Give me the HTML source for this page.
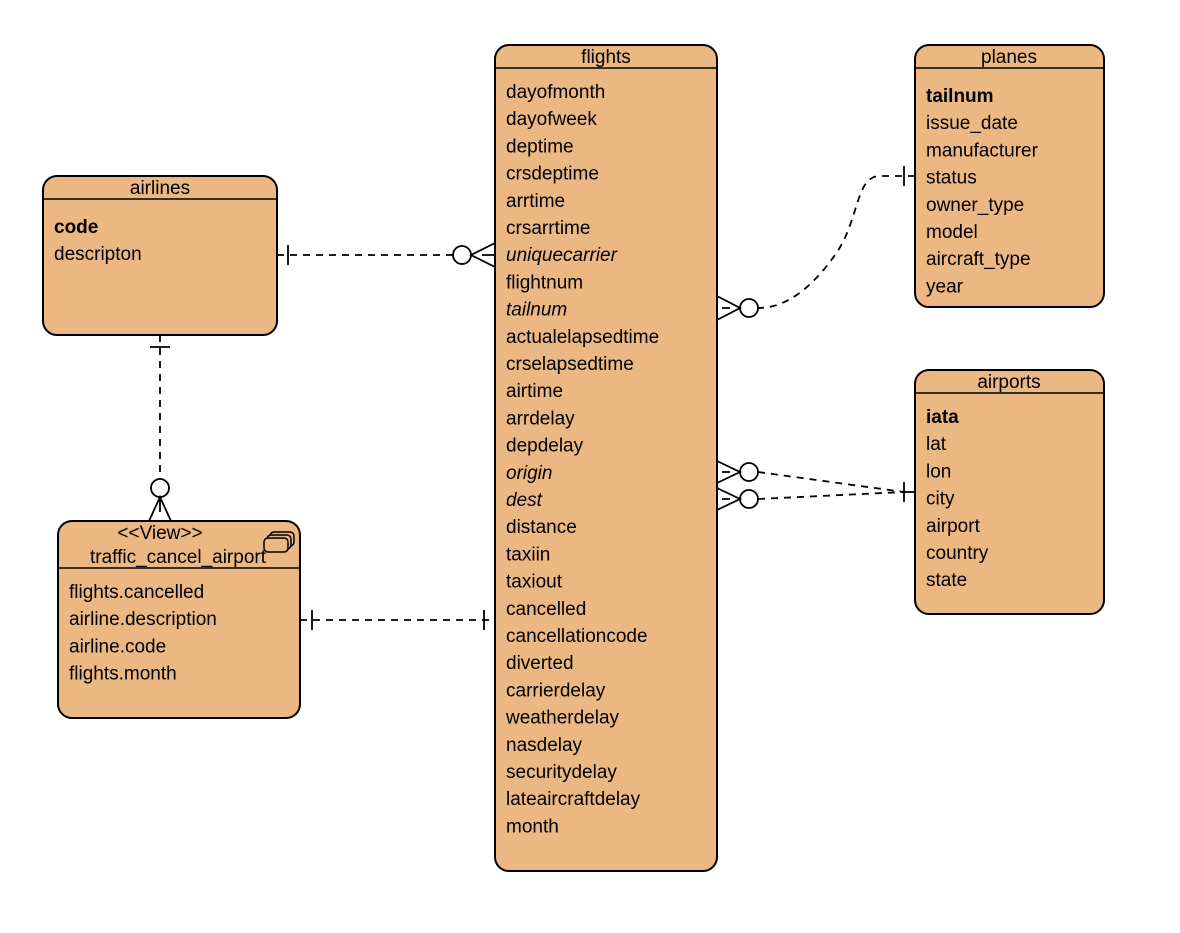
<!DOCTYPE html>
<html><head><style>
body{margin:0;background:#fff}
svg text{font-family:"Liberation Sans",Arial,sans-serif;font-size:19px;fill:#000}
</style></head><body>
<svg width="1180" height="928" xmlns="http://www.w3.org/2000/svg">
<g fill="#ebb783" stroke="#000" stroke-width="2">
<rect x="495" y="45" width="222" height="826" rx="14"/>
<rect x="915" y="45" width="189" height="262" rx="14"/>
<rect x="43" y="176" width="234" height="159" rx="14"/>
<rect x="915" y="370" width="189" height="244" rx="14"/>
<rect x="58" y="521" width="242" height="197" rx="14"/>
</g>
<g stroke="#000" stroke-width="1.5">
<line x1="495" y1="68" x2="717" y2="68"/>
<line x1="915" y1="68" x2="1104" y2="68"/>
<line x1="43" y1="199" x2="277" y2="199"/>
<line x1="915" y1="393" x2="1104" y2="393"/>
<line x1="58" y1="568" x2="300" y2="568"/>
</g>
<g text-anchor="middle">
<text x="606" y="63">flights</text>
<text x="1009" y="63">planes</text>
<text x="160" y="194">airlines</text>
<text x="1009" y="388">airports</text>
<text x="160" y="539">&lt;&lt;View&gt;&gt;</text>
<text x="178" y="563">traffic_cancel_airport</text>
</g>
<g fill="#ebb783" stroke="#000" stroke-width="1.5">
<rect x="270" y="532" width="24" height="14" rx="4"/>
<rect x="267" y="535" width="24" height="14" rx="4"/>
<rect x="264" y="538" width="24" height="14" rx="4"/>
</g>
<g>
<text x="506" y="98">dayofmonth</text>
<text x="506" y="125.2">dayofweek</text>
<text x="506" y="152.4">deptime</text>
<text x="506" y="179.6">crsdeptime</text>
<text x="506" y="206.8">arrtime</text>
<text x="506" y="234">crsarrtime</text>
<text x="506" y="261.2" font-style="italic">uniquecarrier</text>
<text x="506" y="288.4">flightnum</text>
<text x="506" y="315.6" font-style="italic">tailnum</text>
<text x="506" y="342.8">actualelapsedtime</text>
<text x="506" y="370">crselapsedtime</text>
<text x="506" y="397.2">airtime</text>
<text x="506" y="424.4">arrdelay</text>
<text x="506" y="451.6">depdelay</text>
<text x="506" y="478.8" font-style="italic">origin</text>
<text x="506" y="506" font-style="italic">dest</text>
<text x="506" y="533.2">distance</text>
<text x="506" y="560.4">taxiin</text>
<text x="506" y="587.6">taxiout</text>
<text x="506" y="614.8">cancelled</text>
<text x="506" y="642">cancellationcode</text>
<text x="506" y="669.2">diverted</text>
<text x="506" y="696.4">carrierdelay</text>
<text x="506" y="723.6">weatherdelay</text>
<text x="506" y="750.8">nasdelay</text>
<text x="506" y="778">securitydelay</text>
<text x="506" y="805.2">lateaircraftdelay</text>
<text x="506" y="832.4">month</text>

<text x="926" y="102" font-weight="bold">tailnum</text>
<text x="926" y="129.2">issue_date</text>
<text x="926" y="156.4">manufacturer</text>
<text x="926" y="183.6">status</text>
<text x="926" y="210.8">owner_type</text>
<text x="926" y="238">model</text>
<text x="926" y="265.2">aircraft_type</text>
<text x="926" y="292.4">year</text>

<text x="54" y="233" font-weight="bold">code</text>
<text x="54" y="260">descripton</text>

<text x="926" y="423" font-weight="bold">iata</text>
<text x="926" y="450.2">lat</text>
<text x="926" y="477.4">lon</text>
<text x="926" y="504.6">city</text>
<text x="926" y="531.8">airport</text>
<text x="926" y="559">country</text>
<text x="926" y="586.2">state</text>

<text x="69" y="598">flights.cancelled</text>
<text x="69" y="625.2">airline.description</text>
<text x="69" y="652.4">airline.code</text>
<text x="69" y="679.6">flights.month</text>
</g>
<g fill="none" stroke="#000" stroke-width="1.8">
<g stroke-dasharray="7,6">
<line x1="277" y1="255" x2="453" y2="255"/>
<line x1="160" y1="335" x2="160" y2="479"/>
<line x1="300" y1="620" x2="495" y2="620"/>
<path d="M915,176 L880,176 C855,176 860,220 835,255 C810,290 785,308 758,308"/>
<line x1="758" y1="472" x2="904" y2="492"/>
<line x1="758" y1="499" x2="904" y2="492"/>
</g>
<line x1="904" y1="492" x2="915" y2="492"/>
<line x1="904" y1="166" x2="904" y2="186"/>
<line x1="904" y1="482" x2="904" y2="502"/>
<line x1="288" y1="245" x2="288" y2="265"/>
<line x1="150" y1="347" x2="170" y2="347"/>
<line x1="312" y1="610" x2="312" y2="630"/>
<line x1="484" y1="610" x2="484" y2="630"/>
<circle cx="462" cy="255" r="9" fill="#fff"/>
<path d="M495,243 L471,255 L495,267 M482,255 L495,255"/>
<circle cx="160" cy="488" r="9" fill="#fff"/>
<path d="M149,521 L160,497 L171,521 M160,500 L160,512"/>
<circle cx="749" cy="308" r="9" fill="#fff"/>
<path d="M717,296 L740,308 L717,320 M722,308 L730,308"/>
<circle cx="749" cy="472" r="9" fill="#fff"/>
<path d="M717,461 L740,472 L717,483 M722,472 L730,472"/>
<circle cx="749" cy="499" r="9" fill="#fff"/>
<path d="M717,488 L740,499 L717,510 M722,499 L730,499"/>
</g>
</svg>
</body></html>
